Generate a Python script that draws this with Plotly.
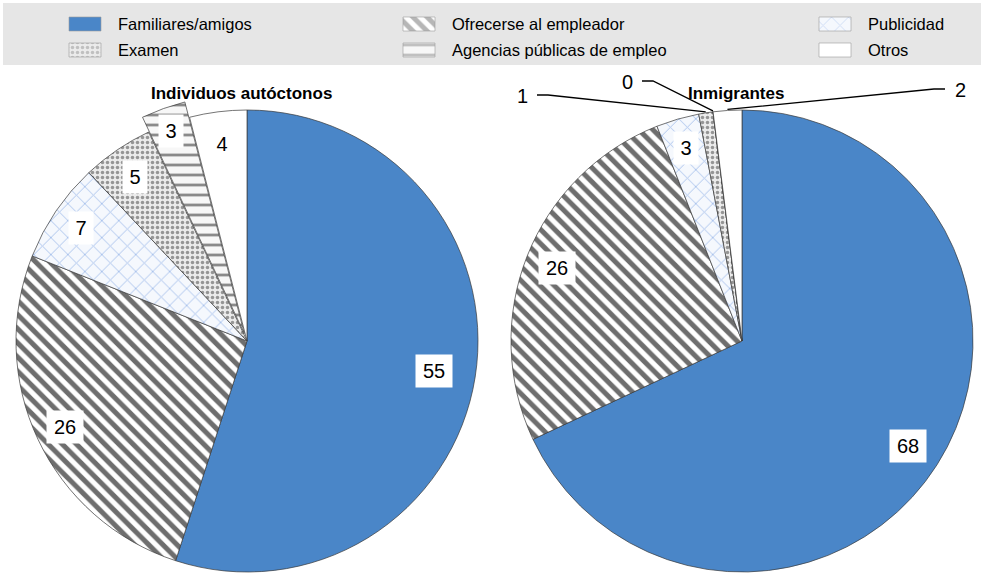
import math
import plotly.graph_objects as go

# ---------------- data ----------------
categories = ["Familiares/amigos", "Ofrecerse al empleador", "Publicidad",
              "Examen", "Agencias públicas de empleo", "Otros"]
native_values = [55, 26, 7, 5, 3, 4]
immigrant_values = [68, 26, 3, 1, 0, 2]
panel_titles = ["Individuos autóctonos", "Inmigrantes"]
exploded_category = "Agencias públicas de empleo"          # exploded slice in the native pie
outside_categories = ["Examen", "Agencias públicas de empleo", "Otros"]  # immigrant labels set outside

# ---------------- style / layout ----------------
W, H = 981, 573
FONT = "Liberation Sans, Arial, sans-serif"
NUM_FONT = "Liberation Sans Narrow, Arial Narrow, Liberation Sans, sans-serif"
BLUE = "#4a86c8"
OUTLINE = "#3a3a3a"
fill_colors = [BLUE, "#ffffff", "#f5f8fd", "#ebebeb", "#f7f7f7", "#ffffff"]
pat_shapes = ["", "\\", "x", ".", "-", ""]
pat_fg = [BLUE, "#6e6e6e", "#a9c1ec", "#959595", "#8a8a8a", "#ffffff"]
pat_size = [8, 10, 12, 5, 10, 8]
pat_solid = [0.3, 0.5, 0.15, 0.38, 0.28, 0.3]

NAT_C = (247, 341)
IMM_C = (742, 341)
R = 231
EXPLODE_PX = 8
EXPLODED_R = 239
native_label_rf = [0.82, 0.87, 0.87, 0.86, 0.90, 0.86]
immigrant_label_rf = [0.85, 0.86, 0.87, 0.0, 0.0, 0.0]
outside_label_xy = {"Examen": (522, 96), "Agencias públicas de empleo": (627, 82), "Otros": (960, 90)}

legend_col_x = [69, 403, 819]
legend_row_y = [24, 50]
SW_W, SW_H = 32, 14
TEXT_GAP = 47


def domain(cx, cy, r):
    return dict(x=[(cx - r) / W, (cx + r) / W], y=[(H - cy - r) / H, (H - cy + r) / H])


def mid_angles(vals):
    tot = float(sum(vals))
    out, cum = [], 0.0
    for v in vals:
        out.append(math.radians((cum + v / 2.0) / tot * 360.0))
        cum += v
    return out


def polar(c, r, a):
    return c[0] + r * math.sin(a), c[1] - r * math.cos(a)


def pie(vals, center, r, show):
    cols = [c if s else "rgba(0,0,0,0)" for c, s in zip(fill_colors, show)]
    return go.Pie(
        values=vals, labels=categories, sort=False, direction="clockwise", rotation=0,
        domain=domain(center[0], center[1], r), textinfo="none", showlegend=False,
        hoverinfo="label+value",
        marker=dict(
            colors=cols,
            line=dict(color=OUTLINE, width=[0.7 if s else 0 for s in show]),
            pattern=dict(shape=[p if s else "" for p, s in zip(pat_shapes, show)],
                         fgcolor=pat_fg, bgcolor=cols, size=pat_size, solidity=pat_solid),
        ),
    )


fig = go.Figure()

# native pie (exploded slice drawn as its own trace, shifted outward)
ex_i = categories.index(exploded_category)
nat_ang = mid_angles(native_values)
ex_center = polar(NAT_C, EXPLODE_PX, nat_ang[ex_i])
fig.add_trace(pie(native_values, NAT_C, R, [i != ex_i for i in range(len(categories))]))
fig.add_trace(pie(native_values, ex_center, EXPLODED_R, [i == ex_i for i in range(len(categories))]))

# immigrant pie
fig.add_trace(pie(immigrant_values, IMM_C, R, [True] * len(categories)))

# legend swatches (scatter fills on a pixel overlay axis)
for i, cat in enumerate(categories):
    x0 = legend_col_x[i % 3]
    yc = legend_row_y[i // 3]
    fp = dict(shape=pat_shapes[i], fgcolor=pat_fg[i], bgcolor=fill_colors[i],
              size=pat_size[i], solidity=pat_solid[i]) if pat_shapes[i] else None
    fig.add_trace(go.Scatter(
        x=[x0, x0 + SW_W, x0 + SW_W, x0, x0],
        y=[yc - SW_H / 2, yc - SW_H / 2, yc + SW_H / 2, yc + SW_H / 2, yc - SW_H / 2],
        mode="lines", fill="toself", fillcolor=fill_colors[i],
        fillpattern=fp, line=dict(color="#9a9a9a", width=0.6),
        showlegend=False, hoverinfo="skip"))

annotations = []
shapes = [dict(type="rect", xref="x", yref="y", x0=3, x1=W, y0=3, y1=65,
               fillcolor="#e6e6e6", line=dict(width=0), layer="below")]

for i, cat in enumerate(categories):
    annotations.append(dict(x=legend_col_x[i % 3] + TEXT_GAP, y=legend_row_y[i // 3], xref="x", yref="y",
                            text=cat, showarrow=False, xanchor="left", yanchor="middle",
                            font=dict(family=FONT, size=16.5, color="#000")))


def value_box(x, y, v):
    txt = str(v)
    return dict(x=x, y=y, xref="x", yref="y", text=txt, showarrow=False,
                font=dict(family=NUM_FONT, size=20, color="#000"), bgcolor="#ffffff",
                width=12 + 12 * len(txt), height=32, borderpad=0, xanchor="center", yanchor="middle")


for i, v in enumerate(native_values):
    c, r = (ex_center, EXPLODED_R) if i == ex_i else (NAT_C, R)
    x, y = polar(c, r * native_label_rf[i], nat_ang[i])
    annotations.append(value_box(x, y, v))

imm_ang = mid_angles(immigrant_values)
for i, v in enumerate(immigrant_values):
    cat = categories[i]
    if cat in outside_categories:
        lx, ly = outside_label_xy[cat]
        ex, ey = polar(IMM_C, R + 1, imm_ang[i])
        side = -1 if lx < IMM_C[0] else 1
        sx = lx - side * 15
        kx = lx - side * 26
        shapes.append(dict(type="path", xref="x", yref="y",
                           path=f"M{sx},{ly - 1} L{kx},{ly - 1} L{ex},{ey}",
                           line=dict(color="#000", width=1.3)))
        annotations.append(dict(x=lx, y=ly, xref="x", yref="y", text=str(v), showarrow=False,
                                font=dict(family=NUM_FONT, size=20, color="#000")))
    else:
        x, y = polar(IMM_C, R * immigrant_label_rf[i], imm_ang[i])
        annotations.append(value_box(x, y, v))

for title, cx in zip(panel_titles, [241.5, 736]):
    annotations.append(dict(x=cx, y=93, xref="x", yref="y", text=f"<b>{title}</b>", showarrow=False,
                            font=dict(family=FONT, size=17, color="#000"),
                            xanchor="center", yanchor="middle"))

fig.update_layout(
    width=W, height=H, margin=dict(l=0, r=0, t=0, b=0),
    paper_bgcolor="#ffffff", plot_bgcolor="rgba(0,0,0,0)",
    xaxis=dict(range=[0, W], visible=False, domain=[0, 1], fixedrange=True),
    yaxis=dict(range=[H, 0], visible=False, domain=[0, 1], fixedrange=True),
    shapes=shapes, annotations=annotations, showlegend=False,
)

fig.write_html("out.html", config={"displayModeBar": False},
               post_script="document.body.style.margin='0px';")
